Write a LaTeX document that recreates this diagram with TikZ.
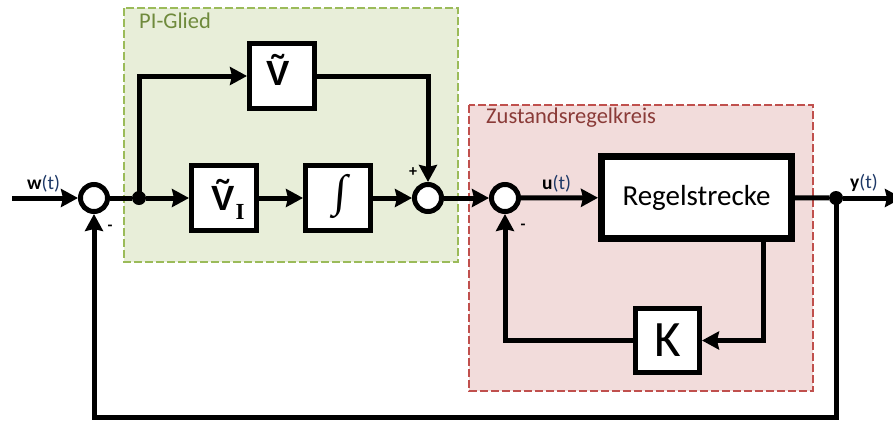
\documentclass[tikz,border=0pt]{standalone}
\usepackage{fontspec}
\setmainfont{Carlito}
\newfontfamily\blocksans{Liberation Sans}
\newfontfamily\blockserif{Liberation Serif}
\usetikzlibrary{arrows.meta}

\definecolor{pifill}{HTML}{E8EED9}
\definecolor{piedge}{HTML}{9BBB59}
\definecolor{pitext}{HTML}{6F8A3C}
\definecolor{zrfill}{HTML}{F2DCDB}
\definecolor{zredge}{HTML}{C0504D}
\definecolor{zrtext}{HTML}{8A3B38}
\definecolor{sigblue}{HTML}{1F3A68}

\begin{document}
\begin{tikzpicture}[x=1pt,y=-1pt,
  sig/.style={line width=5pt},
  arr/.style={sig,-{Stealth[length=17pt,width=18pt,inset=2pt]}},
  blockbox/.style={draw,line width=5pt,fill=white,minimum width=65pt,
    minimum height=65pt,inner sep=0pt},
  sumpt/.style={circle,draw,line width=5pt,fill=white,minimum size=27pt,inner sep=0pt},
  junction/.style={circle,fill=black,minimum size=14pt,inner sep=0pt},
  grouparea/.style={line width=2pt,dash pattern=on 8pt off 3pt},
  grouptitle/.style={anchor=west,inner sep=0pt,font=\fontsize{22.5}{22.5}\selectfont},
  sign/.style={inner sep=0pt,font=\fontsize{16}{16}\selectfont\bfseries},
  siglabel/.style={anchor=base west,inner sep=0pt,font=\fontsize{19.5}{19.5}\selectfont},
  gain/.style={font=\blocksans\bfseries\fontsize{35}{35}\selectfont},
]
\clip (0,0) rectangle (893,421);

% controller and state-feedback groups
\fill[pifill] (124,8) rectangle (458,262);
\draw[piedge,grouparea] (124,8) rectangle (458,262);
\node[grouptitle,text=pitext] (pititle) at (139,21) {PI-Glied};

\fill[zrfill] (469,105) rectangle (813,391);
\draw[zredge,grouparea] (469,105) rectangle (813,391);
\node[grouptitle,text=zrtext] (zrtitle) at (486,118) {Zustandsregelkreis};

% summing points and junctions
\node[sumpt] (s1) at (94,198) {};
\node[sumpt] (s2) at (428,198) {};
\node[sumpt] (s3) at (505,198) {};
\node[junction] (j1) at (139,198) {};
\node[junction] (j2) at (836,198) {};

% blocks
\node[blockbox] (vt) at (282,76) {};
\node[blockbox] (vi) at (224,198) {};
\node[blockbox] (int) at (338,198) {};
\node[blockbox,line width=7pt,minimum width=190pt,minimum height=82pt] (plant)
  at (696.5,197.5) {\fontsize{29}{29}\selectfont Regelstrecke};
\node[blockbox,minimum width=64pt,minimum height=64pt] (k) at (667.5,340.5)
  {\fontsize{51}{51}\selectfont K};

% block contents
\node[gain,inner sep=0pt] (vtlabel) at (278,70) {\~{V}};
\node[gain,inner sep=0pt] (vilabel) at (223,195) {\~{V}};
\node[inner sep=0pt,font=\blockserif\bfseries\fontsize{23}{23}\selectfont]
  (visub) at (240,212) {I};
\node[inner sep=0pt,font=\blockserif\fontsize{45}{45}\selectfont,xslant=0.08]
  (intlabel) at (340,196) {∫};

% free ends
\coordinate (win) at (12,198);
\coordinate (yout) at (902,198);
\coordinate (fbrow) at (0,417);
\coordinate (tap) at (763,0);

% forward path
\draw[arr] (win) -- (s1);
\draw[sig] (s1) -- (j1);
\draw[arr] (j1) -- (vi);
\draw[arr] (vi) -- (int);
\draw[arr] (int) -- (s2);
\draw[arr] (j1.center) |- (vt.west);
\draw[arr] (vt.east) -| (s2.north);
\draw[arr] (s2) -- (s3);
\draw[arr] (s3) -- (plant);
\draw[sig] (plant) -- (j2);
\draw[arr] (j2) -- (yout);

% state feedback
\draw[arr] (plant.south -| tap) |- (k.east);
\draw[arr] (k.west) -| (s3.south);

% output feedback
\draw[arr] (j2.center) -- (j2.center |- fbrow) -| (s1.south);

% signal labels and signs
\node[siglabel] (wlab) at (27,189) {\textbf{w}\textcolor{sigblue}{(t)}};
\node[siglabel] (ulab) at (542,189) {\textbf{u}\textcolor{sigblue}{(t)}};
\node[siglabel] (ylab) at (850,188) {\textbf{y}\textcolor{sigblue}{(t)}};
\node[sign] (plus) at (413,172) {+};
\node[sign] (minus1) at (110,228) {-};
\node[sign] (minus3) at (523,227) {-};
\end{tikzpicture}
\end{document}
